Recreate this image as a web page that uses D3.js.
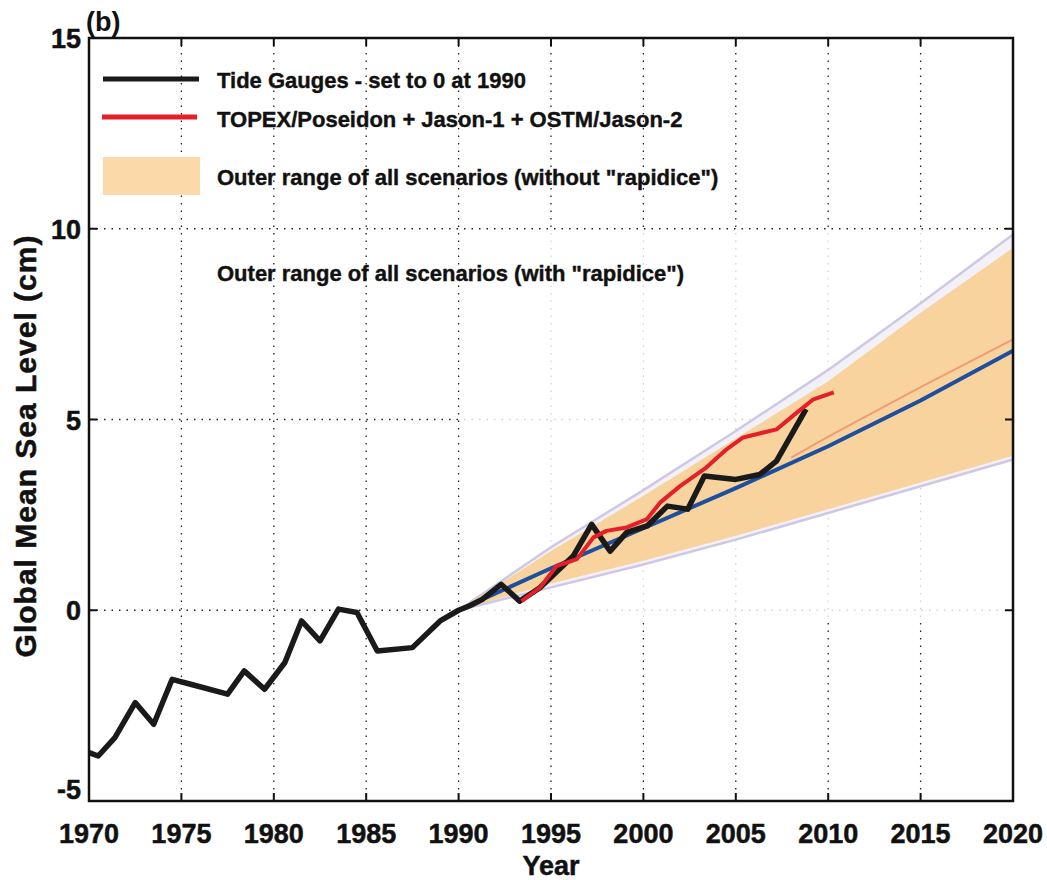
<!DOCTYPE html>
<html lang="en">
<head>
    <meta charset="UTF-8">
    <title>Global Mean Sea Level</title>
    <script src="https://d3js.org/d3.v7.min.js"></script>
    <style>
        body { margin: 0; background: #fff; }
        text { font-family: "Liberation Sans", Arial, sans-serif; font-weight: bold; fill: #111; }
        .tick-label { font-size: 27px; stroke: #111; stroke-width: 0.5; }
        .legend { font-size: 22px; stroke: #111; stroke-width: 0.4; }
    </style>
</head>
<body>
    <script>
        // Tide gauges (black)
        const tideYears = [1970.0, 1970.5, 1971.4, 1972.5, 1973.5, 1974.5, 1975.5, 1977.5, 1978.4, 1979.5,
            1980.6, 1981.5, 1982.5, 1983.5, 1984.5, 1985.6, 1987.5, 1989.0, 1990.0, 1990.6,
            1991.3, 1992.3, 1993.3, 1994.4, 1996.2, 1997.2, 1998.2, 1999.1, 2000.2, 2001.3,
            2002.4, 2003.3, 2005.0, 2006.3, 2007.2, 2008.8];
        const tideValues = [-3.73, -3.82, -3.34, -2.42, -2.99, -1.81, -1.94, -2.20, -1.59, -2.07,
            -1.37, -0.28, -0.80, 0.03, -0.06, -1.07, -0.98, -0.28, 0.0, 0.12,
            0.29, 0.68, 0.24, 0.59, 1.42, 2.25, 1.55, 2.04, 2.21, 2.73,
            2.65, 3.52, 3.43, 3.56, 3.91, 5.27];

        // Satellite altimetry (red)
        const altYears = [1993.4, 1994.4, 1995.3, 1996.4, 1997.3, 1998.0, 1999.1, 2000.2, 2000.9, 2002.0,
            2003.4, 2004.5, 2005.4, 2007.2, 2008.3, 2009.2, 2010.3];
        const altValues = [0.24, 0.59, 1.16, 1.34, 1.91, 2.08, 2.17, 2.39, 2.82, 3.26,
            3.74, 4.22, 4.53, 4.74, 5.18, 5.53, 5.71];

        // Scenario ranges and central projection
        const scenYears = [1990, 1995, 2000, 2005, 2010, 2015, 2020];
        const centralValues = [0, 1.1, 2.15, 3.2, 4.3, 5.5, 6.8];
        const rangeUpper = [0, 1.55, 3.0, 4.5, 6.0, 7.8, 9.5];
        const rangeLower = [0, 0.7, 1.3, 1.95, 2.65, 3.35, 4.05];
        const rapidUpper = [0, 1.65, 3.15, 4.7, 6.3, 8.05, 9.85];
        const rapidLower = [0, 0.6, 1.2, 1.85, 2.55, 3.25, 3.95];
        const sideYears = [2008, 2010, 2015, 2020];
        const sideValues = [4.0, 4.55, 5.85, 7.1];

        const xTicks = [1970, 1975, 1980, 1985, 1990, 1995, 2000, 2005, 2010, 2015, 2020];
        const yTicks = [-5, 0, 5, 10, 15];

        const width = 1047, height = 880;
        const margin = { top: 38, right: 34, bottom: 79, left: 89 };

        const svg = d3.select("body").append("svg")
            .attr("width", width)
            .attr("height", height);

        const x = d3.scaleLinear().domain([1970, 2020]).range([margin.left, width - margin.right]);
        const y = d3.scaleLinear().domain([-5, 15]).range([height - margin.bottom, margin.top]);

        // dotted grid
        svg.append("g").selectAll("line")
            .data(xTicks.slice(1, -1))
            .join("line")
            .attr("x1", d => x(d)).attr("x2", d => x(d))
            .attr("y1", y(15)).attr("y2", y(-5))
            .attr("stroke", "#222").attr("stroke-width", 1.3)
            .attr("stroke-dasharray", "1.5,6");
        svg.append("g").selectAll("line")
            .data(yTicks.slice(1, -1))
            .join("line")
            .attr("x1", x(1970)).attr("x2", x(2020))
            .attr("y1", d => y(d)).attr("y2", d => y(d))
            .attr("stroke", "#222").attr("stroke-width", 1.3)
            .attr("stroke-dasharray", "1.5,6");

        // pale panel behind the projections
        svg.append("rect")
            .attr("x", x(1990.1)).attr("y", y(9.9))
            .attr("width", x(2020) - x(1990.1)).attr("height", y(-0.25) - y(9.9))
            .attr("fill", "#fff").attr("opacity", 0.8);

        const band = (up, lo) => d3.area()
            .x((d, i) => x(scenYears[i]))
            .y0((d, i) => y(lo[i]))
            .y1((d, i) => y(up[i]));
        const line = (xs, ys) => d3.line()
            .x((d, i) => x(xs[i]))
            .y((d, i) => y(ys[i]));

        const plot = svg.append("g");

        // with rapidice (faint) and without rapidice (orange)
        plot.append("path").datum(scenYears)
            .attr("d", band(rapidUpper, rapidLower))
            .attr("fill", "#f3f1f8")
            .attr("stroke", "#cfc8e4").attr("stroke-width", 2.5);
        plot.append("path").datum(scenYears)
            .attr("d", band(rangeUpper, rangeLower))
            .attr("fill", "#f8d39e");

        plot.append("path").datum(sideYears)
            .attr("d", line(sideYears, sideValues))
            .attr("fill", "none").attr("stroke", "#ec8f6c").attr("stroke-width", 2).attr("opacity", 0.8);

        plot.append("path").datum(scenYears)
            .attr("d", line(scenYears, centralValues))
            .attr("fill", "none").attr("stroke", "#1d4f9e").attr("stroke-width", 4);

        plot.append("path").datum(tideYears)
            .attr("d", line(tideYears, tideValues))
            .attr("fill", "none").attr("stroke", "#1a1a1a").attr("stroke-width", 5.5)
            .attr("stroke-linejoin", "round");

        plot.append("path").datum(altYears)
            .attr("d", line(altYears, altValues))
            .attr("fill", "none").attr("stroke", "#e51f27").attr("stroke-width", 4)
            .attr("stroke-linejoin", "round");

        // axes box with inward ticks
        const tick = 8;
        const axisG = svg.append("g").attr("stroke", "#111").attr("stroke-width", 2);
        axisG.append("rect")
            .attr("x", x(1970)).attr("y", y(15))
            .attr("width", x(2020) - x(1970)).attr("height", y(-5) - y(15))
            .attr("fill", "none").attr("stroke-width", 2.5);
        xTicks.forEach(d => {
            axisG.append("line").attr("x1", x(d)).attr("x2", x(d)).attr("y1", y(-5)).attr("y2", y(-5) - tick);
            axisG.append("line").attr("x1", x(d)).attr("x2", x(d)).attr("y1", y(15)).attr("y2", y(15) + tick);
        });
        yTicks.forEach(d => {
            axisG.append("line").attr("x1", x(1970)).attr("x2", x(1970) + tick).attr("y1", y(d)).attr("y2", y(d));
            axisG.append("line").attr("x1", x(2020)).attr("x2", x(2020) - tick).attr("y1", y(d)).attr("y2", y(d));
        });

        // tick labels
        svg.append("g").selectAll("text")
            .data(xTicks)
            .join("text")
            .attr("class", "tick-label")
            .attr("x", d => x(d))
            .attr("y", y(-5) + 42)
            .attr("text-anchor", "middle")
            .text(d => d);
        svg.append("g").selectAll("text")
            .data(yTicks)
            .join("text")
            .attr("class", "tick-label")
            .attr("x", x(1970) - 8)
            .attr("y", d => y(d) + (d === -5 ? -2 : 10))
            .attr("text-anchor", "end")
            .text(d => d);

        // axis titles
        svg.append("text")
            .attr("class", "tick-label")
            .attr("x", (x(1970) + x(2020)) / 2)
            .attr("y", 875)
            .attr("text-anchor", "middle")
            .text("Year");
        svg.append("text")
            .attr("class", "tick-label")
            .attr("transform", "translate(36, 446) rotate(-90)")
            .attr("text-anchor", "middle")
            .attr("font-size", 30)
            .attr("letter-spacing", 1)
            .style("font-size", "30px")
            .text("Global Mean Sea Level (cm)");

        svg.append("text")
            .attr("x", 86).attr("y", 31)
            .style("font-size", "27px")
            .text("(b)");

        // legend
        const lg = svg.append("g");
        lg.append("line").attr("x1", 103).attr("x2", 199).attr("y1", 79).attr("y2", 79)
            .attr("stroke", "#1a1a1a").attr("stroke-width", 5);
        lg.append("line").attr("x1", 102).attr("x2", 197).attr("y1", 117).attr("y2", 117)
            .attr("stroke", "#e51f27").attr("stroke-width", 5);
        lg.append("rect").attr("x", 103).attr("y", 157).attr("width", 97).attr("height", 38)
            .attr("fill", "#fbd9a8");
        const legendLabels = [
            ["Tide Gauges - set to 0 at 1990", 80],
            ["TOPEX/Poseidon + Jason-1 + OSTM/Jason-2", 119],
            ["Outer range of all scenarios (without \"rapidice\")", 177],
            ["Outer range of all scenarios (with \"rapidice\")", 273]
        ];
        lg.selectAll("text")
            .data(legendLabels)
            .join("text")
            .attr("class", "legend")
            .attr("x", 217)
            .attr("y", d => d[1] + 8)
            .text(d => d[0]);
    </script>
</body>
</html>
